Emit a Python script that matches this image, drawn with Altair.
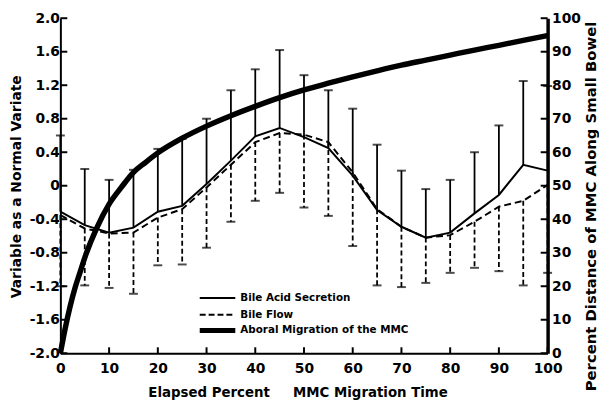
import altair as alt
import pandas as pd

# ---------------- data ----------------
elapsed = [0, 5, 10, 15, 20, 25, 30, 35, 40, 45, 50, 55, 60, 65, 70, 75, 80, 85, 90, 95, 100]
bile_acid = [-0.31, -0.47, -0.56, -0.50, -0.31, -0.24, 0.02, 0.30, 0.59, 0.69, 0.58, 0.45,
             0.12, -0.29, -0.49, -0.62, -0.56, -0.33, -0.11, 0.25, 0.18]
bile_acid_upper = [0.60, 0.20, 0.07, 0.19, 0.44, 0.56, 0.80, 1.14, 1.39, 1.62, 1.32, 1.14,
                   0.92, 0.49, 0.18, -0.04, 0.07, 0.40, 0.72, 1.25, 1.19]
bile_flow = [-0.35, -0.51, -0.57, -0.56, -0.38, -0.28, -0.02, 0.25, 0.52, 0.63, 0.61, 0.52,
             0.16, -0.28, -0.49, -0.62, -0.59, -0.43, -0.25, -0.18, 0.01]
bile_flow_lower = [-1.20, -1.19, -1.22, -1.29, -0.95, -0.94, -0.74, -0.43, -0.18, -0.085, -0.26, -0.36,
                   -0.72, -1.19, -1.21, -1.16, -1.04, -0.98, -1.02, -1.19, -1.04]

curve_x = [0, 1, 2, 3, 4, 5, 7.5, 10, 12.5, 15, 17.5, 20, 25, 30, 35, 40, 45, 50, 55, 60,
           65, 70, 75, 80, 85, 90, 95, 100]
curve_pct = [0, 7.5, 14, 19.5, 24, 28.5, 37.5, 44.5, 49.5, 54, 57, 59.8, 64.2, 67.8, 70.9, 73.7,
             76.3, 78.6, 80.6, 82.5, 84.3, 86.0, 87.5, 89.0, 90.5, 91.9, 93.4, 94.8]

left_ticks = [-2.0, -1.6, -1.2, -0.8, -0.4, 0.0, 0.4, 0.8, 1.2, 1.6, 2.0]
right_ticks = [0, 10, 20, 30, 40, 50, 60, 70, 80, 90, 100]
x_ticks = [0, 10, 20, 30, 40, 50, 60, 70, 80, 90, 100]
legend_labels = ["Bile Acid Secretion", "Bile Flow", "Aboral Migration of the MMC"]

x_title = "Elapsed Percent" + "\u00a0" * 5 + "MMC Migration Time"
y_title = "Variable as a Normal Variate"
r_title = "Percent Distance of MMC Along Small Bowel"

# ---------------- styling ----------------
W, H = 493, 339
FONT = "DejaVu Sans"

df = pd.DataFrame({"x": elapsed, "acid": bile_acid, "acid_hi": bile_acid_upper,
                   "flow": bile_flow, "flow_lo": bile_flow_lower})
curve = pd.DataFrame({"x": curve_x, "pct": curve_pct})

xs = alt.Scale(domain=[0, 100], nice=False, zero=False)
ys = alt.Scale(domain=[-2, 2], nice=False, zero=False)
rs = alt.Scale(domain=[0, 100], nice=False, zero=False)

lab = dict(labelFont=FONT, labelFontWeight="bold", labelFontSize=14, labelColor="black",
           labelFlush=False, labelOverlap=False, ticks=False, grid=False, domainColor="black",
           titleFont=FONT, titleFontWeight="bold", titleColor="black")

x_axis = alt.Axis(values=x_ticks, format="d", domainWidth=2, labelPadding=8,
                  title=x_title, titleFontSize=13.5, titleX=240, titleY=33,
                  titleBaseline="top", titleAlign="center", **lab)
y_axis = alt.Axis(values=left_ticks,
                  labelExpr="datum.value == 0 ? '0' : (datum.value < 0 ? '-' : '') + format(abs(datum.value), '.1f')",
                  domainWidth=2, labelPadding=1, title=y_title, titleFontSize=14,
                  titleX=-44, titleY=170, titleAngle=270, titleBaseline="middle",
                  titleAlign="center", **lab)
r_axis = alt.Axis(orient="right", values=right_ticks, format="d", domainWidth=3.5,
                  labelPadding=4, title=r_title, titleFontSize=15, titleAngle=270,
                  titleX=43, titleY=377, titleAlign="left", titleBaseline="middle", **lab)


def XQ(field="x"):
    return alt.X(f"{field}:Q", scale=xs, axis=x_axis)


def YL(field):
    return alt.Y(f"{field}:Q", scale=ys, axis=y_axis)


def YR(field):
    return alt.Y(f"{field}:Q", scale=rs, axis=r_axis)


base = alt.Chart(df)

acid_line = base.mark_line(color="black", strokeWidth=2).encode(x=XQ(), y=YL("acid"))
flow_line = base.mark_line(color="black", strokeWidth=2, strokeDash=[7, 4]).encode(x=XQ(), y=YL("flow"))
acid_wh = base.mark_rule(color="black", strokeWidth=1.8).encode(x=XQ(), y=YL("acid"), y2="acid_hi:Q")
flow_wh = base.mark_rule(color="black", strokeWidth=1.8, strokeDash=[5, 3]).encode(
    x=XQ(), y=YL("flow"), y2="flow_lo:Q")
acid_cap = base.mark_tick(color="black", orient="horizontal", size=9, thickness=2).encode(
    x=XQ(), y=YL("acid_hi"))
flow_cap = base.mark_tick(color="black", orient="horizontal", size=9, thickness=2).encode(
    x=XQ(), y=YL("flow_lo"))

lt = alt.Chart(pd.DataFrame({"x": left_ticks})).mark_rule(color="black", strokeWidth=2).encode(
    y=YL("x"), x=alt.value(0), x2=alt.value(7))
xt = alt.Chart(pd.DataFrame({"x": x_ticks})).mark_rule(color="black", strokeWidth=2).encode(
    x=XQ(), y=alt.value(H), y2=alt.value(H - 6))

leg_y = [283, 300, 316]
leg_styles = [dict(strokeWidth=2), dict(strokeWidth=2, strokeDash=[6, 3]), dict(strokeWidth=5)]
legend_layers = []
for txt, yy, st in zip(legend_labels, leg_y, leg_styles):
    d = pd.DataFrame({"label": [txt]})
    legend_layers.append(alt.Chart(d).mark_rule(color="black", **st).encode(
        x=alt.value(141), x2=alt.value(177), y=alt.value(yy)))
    legend_layers.append(alt.Chart(d).mark_text(align="left", baseline="middle", font=FONT,
                                                fontWeight="bold", fontSize=10.5, color="black").encode(
        x=alt.value(182), y=alt.value(yy), text="label:N"))

left = alt.layer(acid_line, flow_line, acid_wh, flow_wh, acid_cap, flow_cap, lt, xt, *legend_layers)

curve_line = alt.Chart(curve).mark_line(color="black", strokeWidth=5.5, interpolate="monotone").encode(
    x=XQ(), y=YR("pct"))
rt = alt.Chart(pd.DataFrame({"pct": right_ticks})).mark_rule(color="black", strokeWidth=2).encode(
    y=YR("pct"), x=alt.value(W), x2=alt.value(W - 7))
right = alt.layer(curve_line, rt)

chart = alt.layer(left, right).resolve_scale(y="independent").properties(
    width=W, height=H,
    padding={"left": 53, "top": 8, "right": 52, "bottom": 48},
    autosize=alt.AutoSizeParams(type="none"),
    background="white",
).configure_view(strokeWidth=0)

chart.save("out.html", embed_options={"renderer": "svg", "actions": False})
